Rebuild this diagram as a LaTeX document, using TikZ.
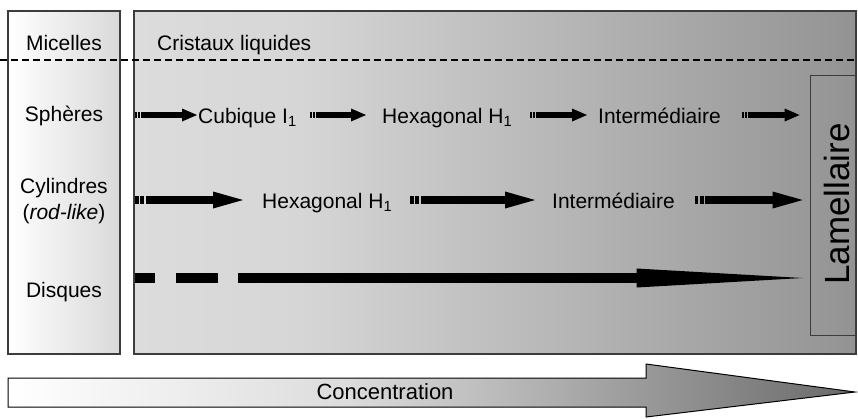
\documentclass[tikz,border=0pt]{standalone}
\usepackage{fontspec}
\setmainfont{Liberation Sans}
\usetikzlibrary{arrows.meta}
\definecolor{boxline}{HTML}{3C3C3C}
\definecolor{lcA}{HTML}{DCDCDC}
\definecolor{lcB}{HTML}{D6D6D6}
\definecolor{lcC}{HTML}{939393}
\definecolor{ccA}{HTML}{DCDCDC}
\definecolor{ccB}{HTML}{6A6A6A}
\pgfdeclarehorizontalshading{lcshade}{100bp}{color(0bp)=(lcA); color(25bp)=(lcA); color(36.5bp)=(lcB); color(75bp)=(lcC); color(100bp)=(lcC)}
\pgfdeclarehorizontalshading{concshade}{100bp}{color(0bp)=(white); color(25bp)=(white); color(45bp)=(ccA); color(75bp)=(ccB); color(100bp)=(ccB)}
\begin{document}
\begin{tikzpicture}[x=1pt,y=-1pt,
    lab/.style={font=\fontsize{21}{25}\selectfont,inner sep=0pt,anchor=base},
    phase/.style={lab,anchor=base west},
    frame/.style={draw=boxline,line width=1.3pt},
    arrA/.style={line width=6pt,-{Triangle[length=15pt,width=13pt,line width=0pt 0 0]},dash pattern=on 2pt off 1pt on 2pt off 1pt on 1000pt off 1pt},
    arrB/.style={line width=8pt,-{Triangle[length=30pt,width=17pt,line width=0pt 0 0]},dash pattern=on 3.5pt off 1.5pt on 4pt off 1.5pt on 1000pt off 1pt},
    arrC/.style={line width=10pt,-{Triangle[length=166pt,width=19pt,line width=0pt 0 0]},dash pattern=on 20pt off 21pt on 42pt off 20pt on 1000pt off 1pt}]
        \useasboundingbox (0,0) rectangle (858,418);
        %% Boxes
        \draw[frame,left color=white,right color=gray!30] (8,11) rectangle (120,354);
        \draw[frame,shading=lcshade] (134,11) rectangle (856,354);
        \draw[line width=1.2pt,dash pattern=on 7pt off 4pt] (0,60) -- (858,60);
        %% Headings
        \node[lab] (mic) at (64,50) {Micelles};
        \node[phase] (crist) at (157,50) {Cristaux liquides};
        \node[lab] (sph) at (64,121) {Sphères};
        \node[lab] (cyl) at (64,193) {Cylindres};
        \node[lab] (rod) at (64,219) {(\textit{rod-like})};
        \node[lab] (disq) at (64,297) {Disques};
        %% Lamellaire
        \node[draw=boxline,line width=0.8pt,minimum width=46pt,minimum height=260pt,inner sep=0pt] (lam) at (833,205) {};
        \node[rotate=90,font=\fontsize{35}{40}\selectfont,inner sep=0pt] (lamtext) at (837,204) {Lamellaire};
        %% Spheres
        \coordinate (s1) at (135,115);
        \node[phase] (cub) at (198,123) {Cubique I\textsubscript{1}};
        \node[phase] (hexa) at (382,123) {Hexagonal H\textsubscript{1}};
        \node[phase] (inter) at (598,123) {Intermédiaire};
        \draw[arrA,shorten >=1pt] (s1) -- (s1 -| cub.west);
        \draw[arrA,shorten <=13pt,shorten >=16pt] (cub.east |- s1) -- (hexa.west |- s1);
        \draw[arrA,shorten <=18pt,shorten >=11pt] (hexa.east |- s1) -- (inter.west |- s1);
        \draw[arrA,shorten <=21pt,shorten >=10pt] (inter.east |- s1) -- (lam.west |- s1);
        %% Cylinders
        \coordinate (s2) at (135,200);
        \node[phase] (hexb) at (262,208) {Hexagonal H\textsubscript{1}};
        \node[phase] (interb) at (552,208) {Intermédiaire};
        \draw[arrB,shorten >=19pt] (s2) -- (s2 -| hexb.west);
        \draw[arrB,shorten <=18pt,shorten >=17pt] (hexb.east |- s2) -- (interb.west |- s2);
        \draw[arrB,shorten <=20pt,shorten >=7pt] (interb.east |- s2) -- (lam.west |- s2);
        %% Disks
        \coordinate (s3) at (135,278);
        \draw[arrC,shorten >=7pt] (s3) -- (s3 -| lam.west);
        %% Concentration
        \draw[black,line width=1pt,shading=concshade] (8,378) -- (646,378) -- (646,364) -- (855,392) -- (646,417) -- (646,407) -- (8,407) -- cycle;
        \node[font=\fontsize{22}{26}\selectfont,inner sep=0pt] (conc) at (385,392) {Concentration};
\end{tikzpicture}
\end{document}
